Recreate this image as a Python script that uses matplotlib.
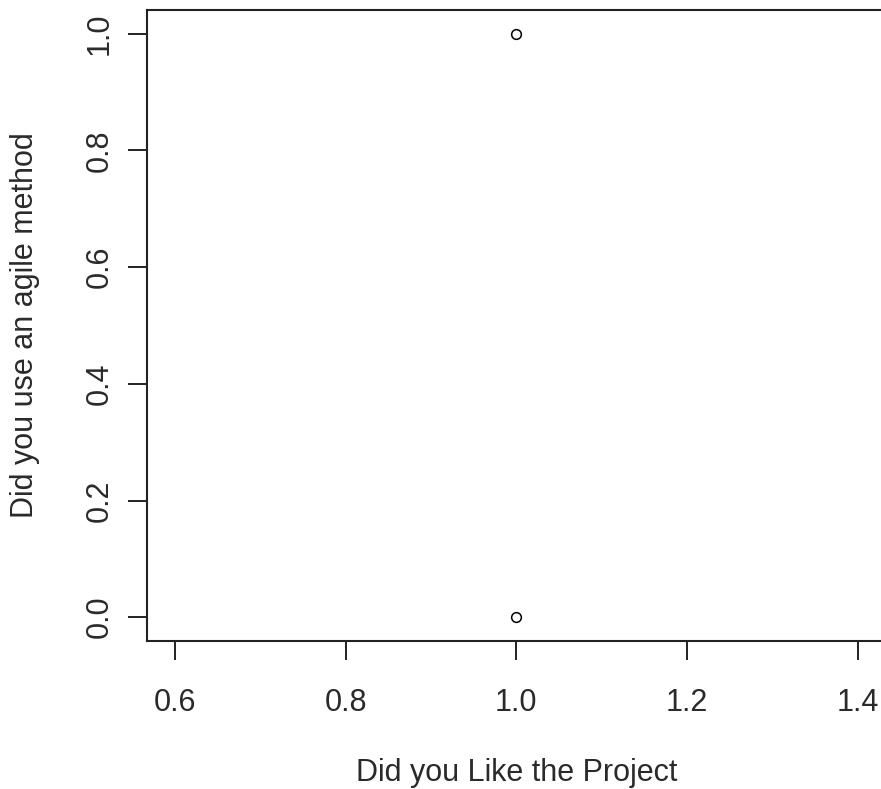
import matplotlib
matplotlib.use("Agg")
import matplotlib.pyplot as plt

# data
liked = [1.0, 1.0]
agile = [1.0, 0.0]
x_ticks = [0.6, 0.8, 1.0, 1.2, 1.4]
y_ticks = [0.0, 0.2, 0.4, 0.6, 0.8, 1.0]

plt.rcParams['font.family'] = ['Liberation Sans', 'DejaVu Sans']

fig = plt.figure(figsize=(8.81, 7.89), dpi=100)
ax = fig.add_axes([0.1674, 0.1882, 0.8371, 0.7985])

ax.plot(liked, agile, linestyle='none', marker='o', markersize=7,
        markerfacecolor='white', markeredgecolor='black', markeredgewidth=1.1)

ax.set_xlim(0.568, 1.432)
ax.set_ylim(-0.04, 1.04)
ax.set_xticks(x_ticks)
ax.set_xticklabels(['%.1f' % v for v in x_ticks])
ax.set_yticks(y_ticks)
ax.set_yticklabels(['%.1f' % v for v in y_ticks], rotation=90, va='center')

for s in ax.spines.values():
    s.set_linewidth(1.5)
    s.set_color('#222222')
ax.tick_params(length=13.7, width=1.4, color='#222222', labelsize=22,
               labelcolor='#2a2a2a')
ax.tick_params(axis='x', pad=20.5)
ax.tick_params(axis='y', pad=10)

ax.set_xlabel('Did you Like the Project', fontsize=22, color='#2a2a2a', labelpad=29)
ax.set_ylabel('Did you use an agile method', fontsize=22, color='#2a2a2a', labelpad=32)

fig.savefig('out.png', dpi=100)
